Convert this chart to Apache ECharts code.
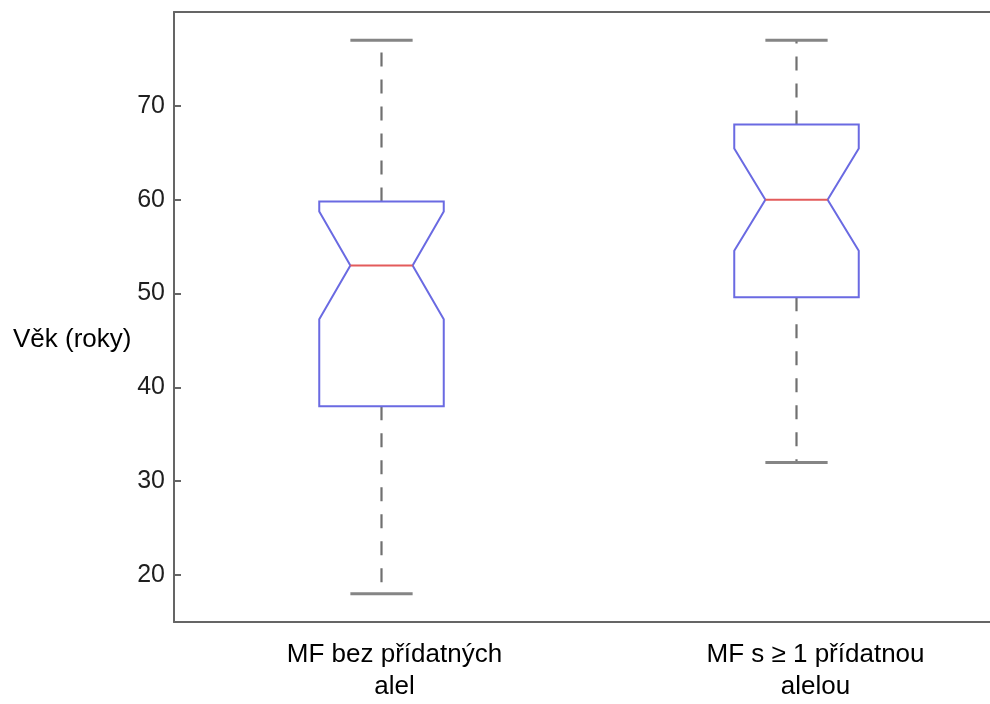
<!DOCTYPE html>
<html>
<head>
<meta charset="utf-8">
<script src="https://cdn.jsdelivr.net/npm/echarts@6/dist/echarts.min.js"></script>
<style>
  html, body { margin: 0; padding: 0; background: #ffffff; }
  #chart { width: 990px; height: 704px; }
</style>
</head>
<body>
<div id="chart"></div>
<script>
// Age distribution (years) for the two groups, as notched box plots
const categories = ['MF bez přídatných\nalel', 'MF s ≥ 1 přídatnou\nalelou'];
const whiskerLow  = [18, 32];
const quartile1   = [38, 49.6];
const notchLow    = [47.25, 54.55];
const medians     = [53, 60];
const notchHigh   = [58.75, 65.45];
const quartile3   = [59.8, 68];
const whiskerHigh = [77, 77];
const yTickLabels = [20, 30, 40, 50, 60, 70];

const boxData = categories.map((_, i) => [
  i, whiskerLow[i], quartile1[i], notchLow[i], medians[i],
  notchHigh[i], quartile3[i], whiskerHigh[i]
]);

const BOX_COLOR = '#6a6ae2';
const MEDIAN_COLOR = '#e35b5b';
const WHISKER_COLOR = '#707070';
const CAP_COLOR = '#858585';
const AXIS_COLOR = '#656565';
const FONT = '"Liberation Sans", Arial, sans-serif';

function renderNotchedBox(params, api) {
  const idx = api.value(0);
  const band = api.size([1, 0])[0];
  const cx = api.coord([idx, 0])[0];
  const y = (dim) => api.coord([idx, api.value(dim)])[1];
  const yMin = y(1), yQ1 = y(2), yNLo = y(3), yMed = y(4), yNHi = y(5), yQ3 = y(6), yMax = y(7);
  const half = band * 0.15;
  const inset = band * 0.075;
  const capHalf = band * 0.075;
  const L = cx - half, R = cx + half;

  const whiskerStyle = { stroke: WHISKER_COLOR, lineWidth: 2.2, lineDash: [14, 13] };
  const capStyle = { stroke: CAP_COLOR, lineWidth: 3 };

  return {
    type: 'group',
    children: [
      { type: 'line', shape: { x1: cx, y1: yQ3, x2: cx, y2: yMax }, style: whiskerStyle },
      { type: 'line', shape: { x1: cx, y1: yQ1, x2: cx, y2: yMin }, style: whiskerStyle },
      { type: 'line', shape: { x1: cx - capHalf, y1: yMax, x2: cx + capHalf, y2: yMax }, style: capStyle },
      { type: 'line', shape: { x1: cx - capHalf, y1: yMin, x2: cx + capHalf, y2: yMin }, style: capStyle },
      {
        type: 'polygon',
        shape: {
          points: [
            [L, yQ3], [R, yQ3], [R, yNHi], [R - inset, yMed], [R, yNLo],
            [R, yQ1], [L, yQ1], [L, yNLo], [L + inset, yMed], [L, yNHi]
          ]
        },
        style: { fill: '#ffffff', stroke: BOX_COLOR, lineWidth: 2 }
      },
      { type: 'line', shape: { x1: L + inset, y1: yMed, x2: R - inset, y2: yMed },
        style: { stroke: MEDIAN_COLOR, lineWidth: 2 } }
    ]
  };
}

// category labels sit a little right of their boxes
const labelRich = {
  c0: { color: '#000000', fontFamily: FONT, fontSize: 26, lineHeight: 32, padding: [0, 0, 0, 26] },
  c1: { color: '#000000', fontFamily: FONT, fontSize: 26, lineHeight: 32, padding: [0, 0, 0, 38] }
};

const chart = echarts.init(document.getElementById('chart'), null, { renderer: 'canvas' });

chart.setOption({
  animation: false,
  backgroundColor: '#ffffff',
  grid: { left: 174, top: 12, width: 830, height: 610, outerBoundsMode: 'none', containLabel: false },
  graphic: [
    {
      type: 'text',
      left: 13,
      top: 327,
      style: { text: 'Věk (roky)', fill: '#000000', font: '26px "Liberation Sans", Arial, sans-serif' }
    }
  ],
  xAxis: [
    {
      type: 'category',
      data: categories,
      position: 'bottom',
      boundaryGap: true,
      axisLine: { lineStyle: { color: AXIS_COLOR, width: 2 } },
      axisTick: { inside: true, alignWithLabel: true, length: 7, lineStyle: { color: AXIS_COLOR, width: 2 } },
      axisLabel: {
        margin: 17,
        lineHeight: 32,
        formatter: (value, index) =>
          value.split('\n').map((line) => '{c' + index + '|' + line + '}').join('\n'),
        rich: labelRich
      },
      splitLine: { show: false }
    },
    {
      type: 'category',
      data: categories,
      position: 'top',
      boundaryGap: true,
      axisLine: { lineStyle: { color: AXIS_COLOR, width: 2 } },
      axisTick: { inside: true, alignWithLabel: true, length: 7, lineStyle: { color: AXIS_COLOR, width: 2 } },
      axisLabel: { show: false },
      splitLine: { show: false }
    }
  ],
  yAxis: {
    type: 'value',
    min: 15,
    max: 80,
    splitNumber: 5,
    axisLine: { show: true, lineStyle: { color: AXIS_COLOR, width: 2 } },
    axisTick: { show: true, inside: true, length: 7, lineStyle: { color: AXIS_COLOR, width: 2 } },
    axisLabel: {
      color: '#1f1f1f',
      fontFamily: FONT,
      fontSize: 25,
      margin: 9,
      showMinLabel: false,
      showMaxLabel: false,
      formatter: (v) => (yTickLabels.indexOf(v) >= 0 ? String(v) : '')
    },
    splitLine: { show: false }
  },
  series: [
    {
      type: 'custom',
      xAxisIndex: 0,
      renderItem: renderNotchedBox,
      encode: { x: 0, y: [1, 2, 3, 4, 5, 6, 7] },
      data: boxData,
      clip: false
    }
  ]
});
</script>
</body>
</html>
